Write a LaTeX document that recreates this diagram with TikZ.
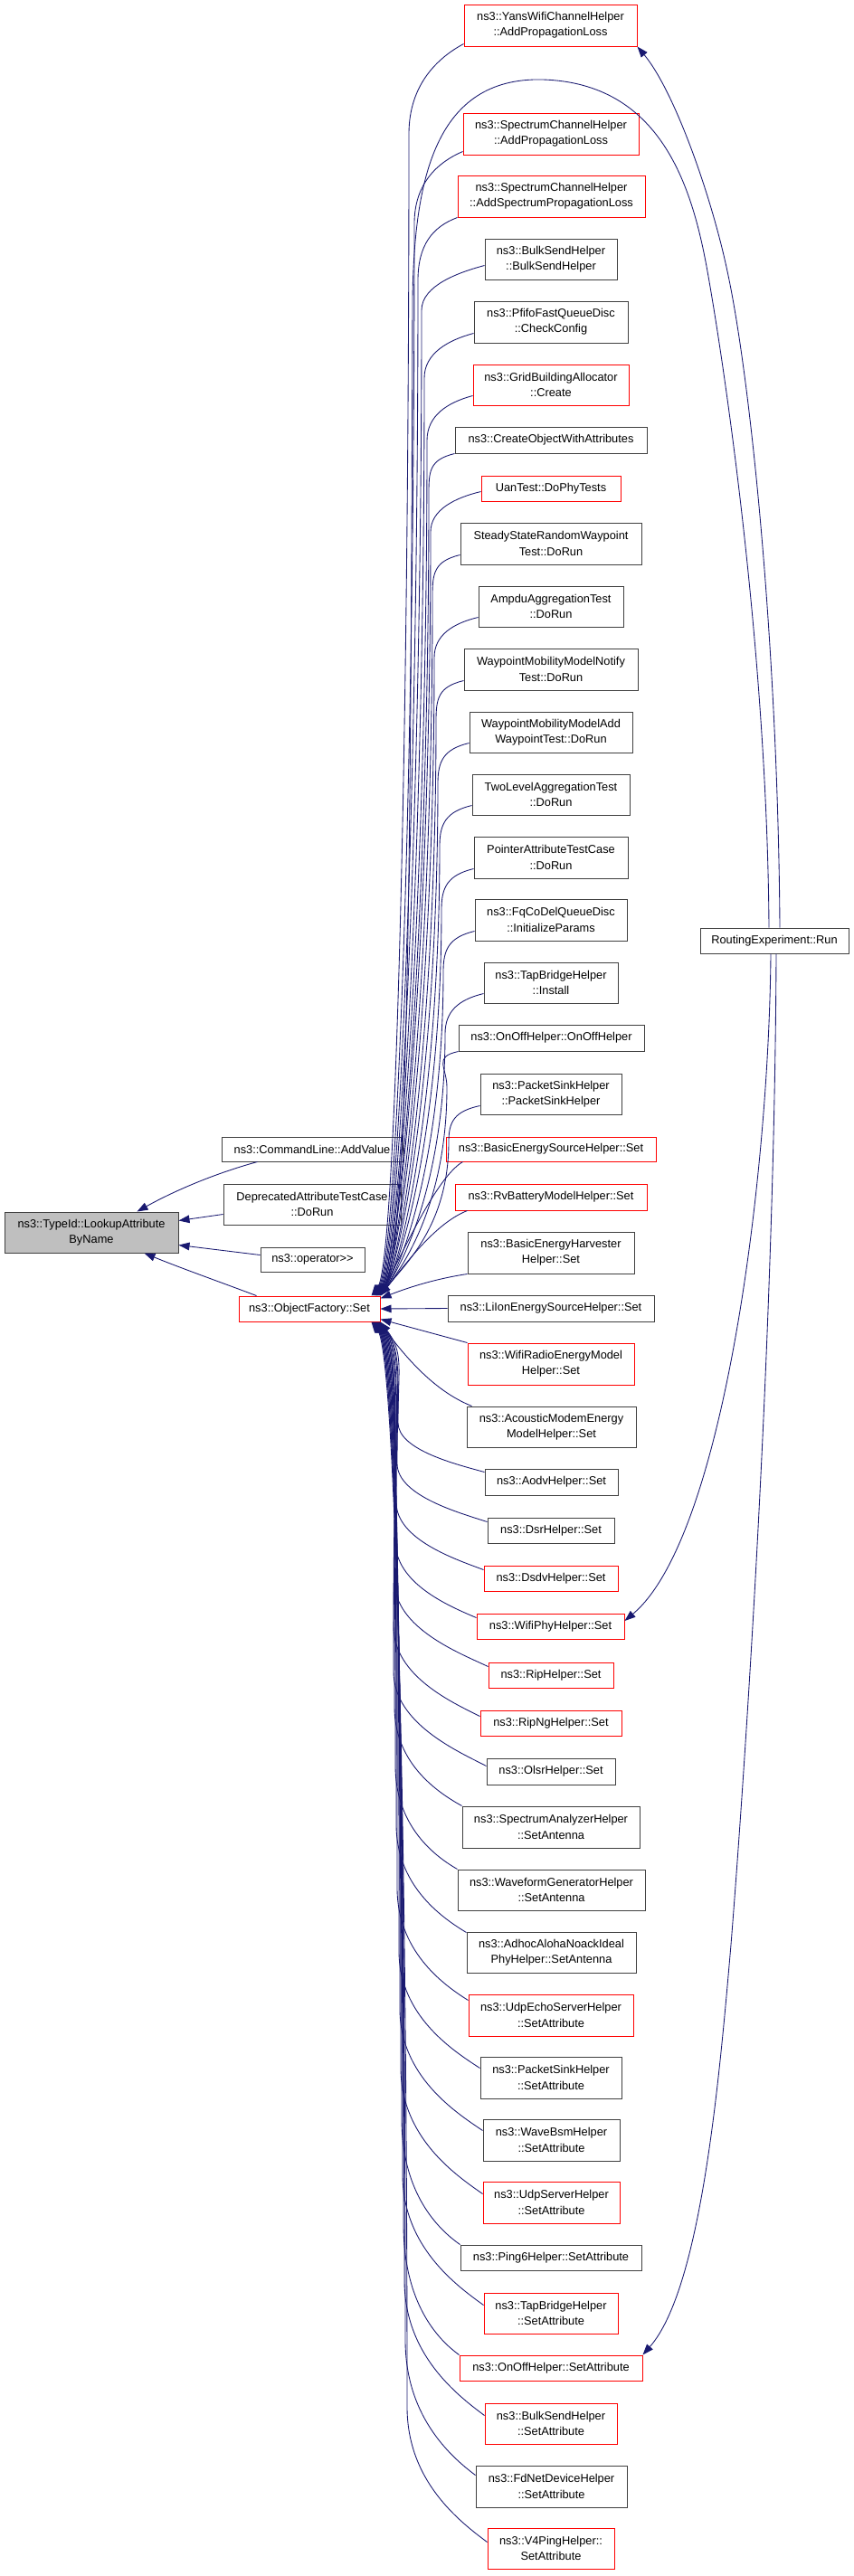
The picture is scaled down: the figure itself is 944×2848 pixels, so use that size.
\documentclass[tikz,border=0pt]{standalone}
\usepackage{fontspec}
\setmainfont{Liberation Sans}
\usetikzlibrary{arrows.meta,calc}
\definecolor{edgeblue}{HTML}{191970}
\definecolor{rootfill}{HTML}{BFBFBF}
\definecolor{bordergray}{HTML}{404040}
\newcommand\mynode[7]{\node[#6, minimum width={(#4-#2)*0.75pt}, minimum height={(#5-#3)*0.75pt}] (#1) at ({(#2+#4)/2},{(#3+#5)/2}) {#7};}
% upper edge: #1 node, #2 dx, #3 dy, #4 ys, #5 xv, #6 k, #7 b
\newcommand\myup[7]{%
 \draw[edge] ($(#1.south west)+(#2,-#3)$) .. controls +(-28,{0.15*#7}) and (#5,{#4+0.45*#7}) .. (#5,{#4+#7}) .. controls (#5,{#4+#7+0.55*(1433-#4-#7)}) and ($(OF.north east)+({26-#6},-34)$) .. ($(OF.north east)+(-#6,0)$);}
\newcommand\mylow[7]{%
 \draw[edge] ($(#1.north west)+(#2,#3)$) .. controls +(-30,{-0.15*#7}) and (#5,{#4-0.45*#7}) .. (#5,{#4-#7}) .. controls (#5,{#4-#7-0.55*(#4-#7-1461)}) and ($(OF.south east)+({26-#6},34)$) .. ($(OF.south east)+(-#6,0)$);}
\begin{document}
\begin{tikzpicture}[x=0.75pt,y=-0.75pt,
 box/.style={draw, line width=0.75pt, inner sep=0pt, align=center, font=\fontsize{9.6}{13}\selectfont},
 blk/.style={box, draw=bordergray},
 rd/.style={box, draw=red},
 root/.style={box, draw=bordergray, fill=rootfill},
 edge/.style={draw=edgeblue, line width=0.65pt, -{Triangle[length=9pt,width=6.5pt]}}]
\useasboundingbox (0,0) rectangle (944,2848);
% left column
\mynode{LK}{5}{1340}{197}{1385}{root}{ns3::TypeId::LookupAttribute\\ByName}
\mynode{CL}{245}{1257}{445}{1284}{blk}{ns3::CommandLine::AddValue}
\mynode{DEP}{247}{1309}{443}{1354}{blk}{DeprecatedAttributeTestCase\\::DoRun}
\mynode{OP}{288}{1379}{403}{1406}{blk}{ns3::operator>{}>}
\mynode{OF}{264}{1433}{420}{1461}{rd}{ns3::ObjectFactory::Set}
% right
\mynode{RE}{774}{1026}{938}{1054}{blk}{RoutingExperiment::Run}
% middle column
\mynode{n1}{513}{5}{704}{51}{rd}{ns3::YansWifiChannelHelper\\::AddPropagationLoss}
\mynode{n2}{512}{125}{706}{171}{rd}{ns3::SpectrumChannelHelper\\::AddPropagationLoss}
\mynode{n3}{506}{194}{713}{240}{rd}{ns3::SpectrumChannelHelper\\::AddSpectrumPropagationLoss}
\mynode{n4}{536}{264}{682}{309}{blk}{ns3::BulkSendHelper\\::BulkSendHelper}
\mynode{n5}{524}{333}{694}{379}{blk}{ns3::PfifoFastQueueDisc\\::CheckConfig}
\mynode{n6}{523}{403}{695}{448}{rd}{ns3::GridBuildingAllocator\\::Create}
\mynode{n7}{503}{472}{715}{501}{blk}{ns3::CreateObjectWithAttributes}
\mynode{n8}{532}{526}{686}{554}{rd}{UanTest::DoPhyTests}
\mynode{n9}{509}{578}{709}{624}{blk}{SteadyStateRandomWaypoint\\Test::DoRun}
\mynode{n10}{529}{648}{689}{693}{blk}{AmpduAggregationTest\\::DoRun}
\mynode{n11}{513}{717}{705}{763}{blk}{WaypointMobilityModelNotify\\Test::DoRun}
\mynode{n12}{519}{787}{699}{832}{blk}{WaypointMobilityModelAdd\\WaypointTest::DoRun}
\mynode{n13}{522}{856}{696}{901}{blk}{TwoLevelAggregationTest\\::DoRun}
\mynode{n14}{524}{925}{694}{971}{blk}{PointerAttributeTestCase\\::DoRun}
\mynode{n15}{525}{994}{693}{1040}{blk}{ns3::FqCoDelQueueDisc\\::InitializeParams}
\mynode{n16}{535}{1064}{683}{1109}{blk}{ns3::TapBridgeHelper\\::Install}
\mynode{n17}{507}{1133}{712}{1162}{blk}{ns3::OnOffHelper::OnOffHelper}
\mynode{n18}{531}{1187}{687}{1232}{blk}{ns3::PacketSinkHelper\\::PacketSinkHelper}
\mynode{n19}{493}{1257}{725}{1284}{rd}{ns3::BasicEnergySourceHelper::Set}
\mynode{n20}{503}{1309}{715}{1338}{rd}{ns3::RvBatteryModelHelper::Set}
\mynode{n21}{517}{1362}{701}{1408}{blk}{ns3::BasicEnergyHarvester\\Helper::Set}
\mynode{n22}{495}{1432}{723}{1461}{blk}{ns3::LiIonEnergySourceHelper::Set}
\mynode{n23}{517}{1485}{701}{1531}{rd}{ns3::WifiRadioEnergyModel\\Helper::Set}
\mynode{n24}{516}{1555}{703}{1600}{blk}{ns3::AcousticModemEnergy\\ModelHelper::Set}
\mynode{n25}{536}{1624}{683}{1653}{blk}{ns3::AodvHelper::Set}
\mynode{n26}{539}{1678}{679}{1706}{blk}{ns3::DsrHelper::Set}
\mynode{n27}{535}{1731}{683}{1759}{rd}{ns3::DsdvHelper::Set}
\mynode{n28}{527}{1784}{690}{1812}{rd}{ns3::WifiPhyHelper::Set}
\mynode{n29}{540}{1838}{678}{1866}{rd}{ns3::RipHelper::Set}
\mynode{n30}{531}{1891}{687}{1919}{rd}{ns3::RipNgHelper::Set}
\mynode{n31}{538}{1944}{680}{1973}{blk}{ns3::OlsrHelper::Set}
\mynode{n32}{511}{1997}{707}{2043}{blk}{ns3::SpectrumAnalyzerHelper\\::SetAntenna}
\mynode{n33}{506}{2067}{713}{2112}{blk}{ns3::WaveformGeneratorHelper\\::SetAntenna}
\mynode{n34}{516}{2136}{703}{2181}{blk}{ns3::AdhocAlohaNoackIdeal\\PhyHelper::SetAntenna}
\mynode{n35}{518}{2205}{700}{2251}{rd}{ns3::UdpEchoServerHelper\\::SetAttribute}
\mynode{n36}{531}{2274}{687}{2320}{blk}{ns3::PacketSinkHelper\\::SetAttribute}
\mynode{n37}{534}{2343}{685}{2389}{blk}{ns3::WaveBsmHelper\\::SetAttribute}
\mynode{n38}{534}{2412}{685}{2458}{rd}{ns3::UdpServerHelper\\::SetAttribute}
\mynode{n39}{509}{2482}{709}{2510}{blk}{ns3::Ping6Helper::SetAttribute}
\mynode{n40}{535}{2535}{683}{2580}{rd}{ns3::TapBridgeHelper\\::SetAttribute}
\mynode{n41}{508}{2604}{710}{2632}{rd}{ns3::OnOffHelper::SetAttribute}
\mynode{n42}{536}{2657}{682}{2702}{rd}{ns3::BulkSendHelper\\::SetAttribute}
\mynode{n43}{526}{2726}{693}{2772}{blk}{ns3::FdNetDeviceHelper\\::SetAttribute}
\mynode{n44}{539}{2795}{679}{2840}{rd}{ns3::V4PingHelper::\\SetAttribute}
% edges to LookupAttributeByName
\draw[edge] ($(CL.south west)+(40,0)$) .. controls (235,1298) and (190,1318) .. ($(LK.north west)+(147,0)$);
\draw[edge] ($(DEP.west)+(0,11)$) -- ($(LK.east)+(0,-13)$);
\draw[edge] ($(OP.west)+(0,-5)$) -- ($(LK.east)+(0,14)$);
\draw[edge] ($(OF.north west)+(20,0)$) .. controls (245,1418) and (200,1402) .. ($(LK.south west)+(155,0)$);
% upper edges to ObjectFactory::Set
\myup{n1}{0}{3}{48}{452}{10}{100}
\myup{n2}{0}{4}{167}{458}{9}{80}
\myup{n3}{0}{0}{240}{462}{8}{70}
\myup{n4}{0}{16}{293}{466}{7}{50}
\myup{n5}{0}{11}{368}{469}{6}{50}
\myup{n6}{0}{11}{437}{472}{6}{50}
\myup{n7}{0}{0}{501}{474}{5}{45}
\myup{n8}{0}{11}{543}{476}{5}{45}
\myup{n9}{0}{11}{613}{478}{4}{45}
\myup{n10}{0}{11}{682}{480}{4}{45}
\myup{n11}{0}{11}{752}{482}{3}{45}
\myup{n12}{0}{11}{821}{484}{3}{45}
\myup{n13}{0}{11}{890}{486}{2}{45}
\myup{n14}{0}{11}{960}{488}{2}{45}
\myup{n15}{0}{11}{1029}{490}{1}{45}
\myup{n16}{0}{11}{1098}{492}{1}{45}
\myup{n17}{0}{0}{1162}{494}{0}{40}
\myup{n18}{0}{10}{1222}{496}{0}{40}
\draw[edge] ($(n19.south west)+(19,0)$) .. controls (485,1300) and (452,1370) .. (OF.north east);
\draw[edge] ($(n20.south west)+(14,0)$) .. controls (482,1352) and (450,1395) .. (OF.north east);
\draw[edge] (n21.south west) .. controls (480,1414) and (450,1424) .. ($(OF.north east)+(0,3)$);
\draw[edge] (n22.west) -- (OF.east);
% lower edges
\draw[edge] (n23.north west) -- ($(OF.south east)+(0,-3)$);
\draw[edge] ($(n24.north west)+(6,0)$) .. controls (480,1538) and (448,1500) .. ($(OF.south east)+(-1,0)$);
\mylow{n25}{0}{4}{1628}{440}{0}{55}
\mylow{n26}{0}{5}{1683}{439}{1}{65}
\mylow{n27}{0}{5}{1736}{438}{1}{75}
\mylow{n28}{0}{5}{1789}{437}{2}{85}
\mylow{n29}{0}{5}{1843}{436}{2}{95}
\mylow{n30}{0}{7}{1898}{435}{3}{100}
\mylow{n31}{0}{9}{1953}{435}{3}{105}
\mylow{n32}{0}{0}{1997}{436}{4}{110}
\mylow{n33}{0}{0}{2067}{437}{4}{115}
\mylow{n34}{0}{1}{2137}{438}{5}{120}
\mylow{n35}{0}{7}{2212}{439}{5}{125}
\mylow{n36}{0}{13}{2287}{441}{6}{130}
\mylow{n37}{0}{13}{2356}{442}{6}{135}
\mylow{n38}{0}{14}{2426}{443}{7}{140}
\mylow{n39}{0}{0}{2482}{444}{7}{140}
\mylow{n40}{0}{14}{2549}{445}{8}{145}
\mylow{n41}{0}{0}{2604}{446}{8}{145}
\mylow{n42}{0}{14}{2671}{447}{9}{150}
\mylow{n43}{0}{11}{2737}{448}{9}{150}
\mylow{n44}{0}{16}{2811}{450}{10}{150}
% RoutingExperiment::Run edges
\draw[edge] ($(RE.north)+(6,0)$) .. controls (860,720) and (830,420) .. (804,300) .. controls (786,215) and (745,100) .. (n1.south east);
\draw[edge] ($(RE.north)+(-6,0)$) .. controls (848,720) and (800,400) .. (782,300) .. controls (765,205) and (730,92) .. (600,88) .. controls (480,85) and (458,200) .. (456,330) .. controls (454,1000) and ($(OF.north east)+(30,-40)$) .. ($(OF.north east)+(-4,0)$);
\draw[edge] ($(RE.south)+(-4,0)$) .. controls (850,1300) and (800,1700) .. ($(n28.east)+(0,-6)$);
\draw[edge] ($(RE.south)+(2,0)$) .. controls (856,1500) and (820,2000) .. (808,2150) .. controls (795,2300) and (775,2530) .. (n41.north east);
\end{tikzpicture}
\end{document}
